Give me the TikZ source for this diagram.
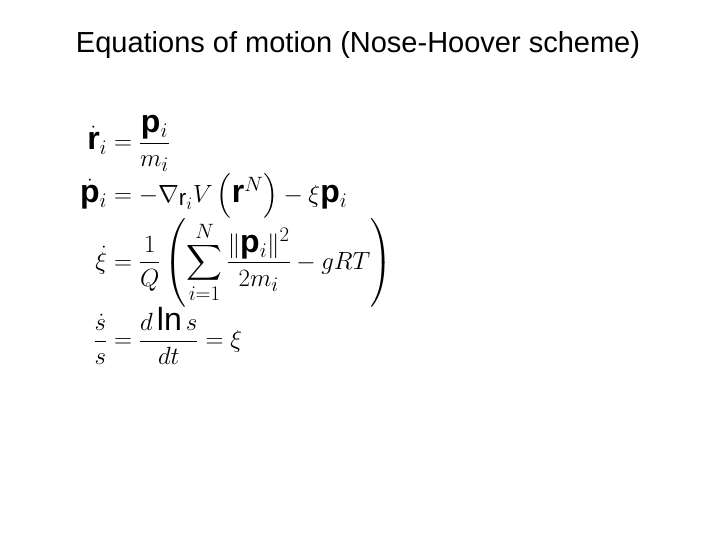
\documentclass[tikz,border=0pt]{standalone}
\usepackage{amsmath}
\usepackage{fontspec}
\setmainfont{Liberation Sans}
\begin{document}
\begin{tikzpicture}[x=1pt,y=1pt]
\tikzset{titlestyle/.style={font=\fontsize{29}{34}\selectfont},
eqstyle/.style={font=\fontsize{32}{38}\selectfont, anchor=north west, inner sep=0}}
\useasboundingbox (0,0) rectangle (720,-540);
\node[titlestyle] (title) at (358,-45) {Equations of motion (Nose-Hoover scheme)};
\node[eqstyle] (eqs) at (80,-115) {$\displaystyle
\begin{aligned}
\dot{\mathbf r}_i &= \frac{\mathbf p_i}{m_i}\\[-2pt]
\dot{\mathbf p}_i &= -\nabla_{\mathrm r_i} V\left(\mathbf r^N\right) - \xi\mathbf p_i\\[-4pt]
\dot\xi &= \frac{1}{Q}\left(\sum_{i=1}^{N}\frac{\left\|\mathbf p_i\right\|^2}{2m_i} - gRT\right)\\[-4pt]
\frac{\dot s}{s} &= \frac{d\ln s}{dt} = \xi
\end{aligned}$};
\end{tikzpicture}
\end{document}
